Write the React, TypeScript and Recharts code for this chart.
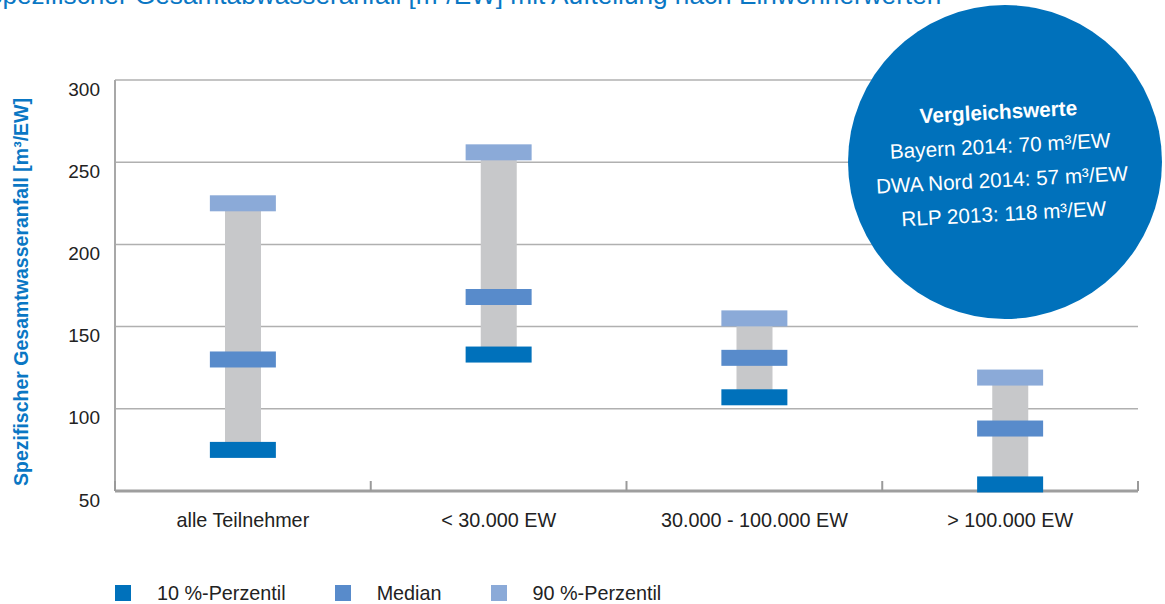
import React from "react";
import {
  ComposedChart,
  Bar,
  Scatter,
  XAxis,
  YAxis,
  CartesianGrid,
} from "recharts";

// categories and values
const categories = ["alle Teilnehmer", "< 30.000 EW", "30.000 - 100.000 EW", "> 100.000 EW"];
const p10 = [75, 133, 107, 54];
const median = [130, 168, 131, 88];
const p90 = [225, 256, 155, 119];
const yTicks = [50, 100, 150, 200, 250, 300];

const compareTitle = "Vergleichswerte";
const compareLines = ["Bayern 2014: 70 m³/EW", "DWA Nord 2014: 57 m³/EW", "RLP 2013: 118 m³/EW"];

const FONT = '"Liberation Sans", Arial, sans-serif';
const BLUE = "#0a77c4";
const C_P10 = "#0071bb";
const C_MED = "#588bcb";
const C_P90 = "#8baad8";
const C_RANGE = "#c7c8ca";

const W = 1165;
const H = 604;
const PLOT_LEFT = 115;
const PLOT_RIGHT = 27;
const BAND = (W - PLOT_LEFT - PLOT_RIGHT) / categories.length;

const data = categories.map((name, i) => ({
  name,
  p10: p10[i],
  median: median[i],
  p90: p90[i],
  range: [p10[i], p90[i]],
}));

const series = [
  { key: "p10", label: "10 %-Perzentil", color: C_P10 },
  { key: "median", label: "Median", color: C_MED },
  { key: "p90", label: "90 %-Perzentil", color: C_P90 },
];

const marker = (color: string) => (props: any) => {
  const { cx, cy } = props;
  if (cx == null || cy == null) return <g />;
  return <rect x={cx - 33} y={cy - 8} width={66} height={16} fill={color} />;
};

const XTick = (props: any) => {
  const { x, y, payload, index } = props;
  const left = x - BAND / 2;
  const right = x + BAND / 2;
  return (
    <g>
      <line x1={left} x2={left} y1={y} y2={y - 10} stroke="#9a9a9a" strokeWidth={2} />
      {index === categories.length - 1 && (
        <line x1={right} x2={right} y1={y} y2={y - 10} stroke="#9a9a9a" strokeWidth={2} />
      )}
      <text
        x={x}
        y={y + 29}
        textAnchor="middle"
        dominantBaseline="central"
        fill="#222"
        fontSize={19.8}
        fontFamily={FONT}
      >
        {payload.value}
      </text>
    </g>
  );
};

const YTick = (props: any) => {
  const { x, y, payload } = props;
  return (
    <text
      x={x}
      y={y + 9}
      textAnchor="end"
      dominantBaseline="central"
      fill="#222"
      fontSize={19}
      fontFamily={FONT}
    >
      {payload.value}
    </text>
  );
};

export default function App() {
  return (
    <div
      style={{
        position: "absolute",
        left: 0,
        top: 0,
        width: W,
        height: H,
        overflow: "hidden",
        background: "#fff",
        fontFamily: FONT,
      }}
    >
      <div
        style={{
          position: "absolute",
          left: -15,
          top: -20,
          fontSize: 26.2,
          color: BLUE,
          whiteSpace: "nowrap",
        }}
      >
        Spezifischer Gesamtabwasseranfall [m³/EW] mit Aufteilung nach Einwohnerwerten
      </div>

      <div
        style={{
          position: "absolute",
          left: 21,
          top: 292,
          transform: "translate(-50%, -50%) rotate(-90deg)",
          fontSize: 19.5,
          fontWeight: "bold",
          color: BLUE,
          whiteSpace: "nowrap",
        }}
      >
        Spezifischer Gesamtwasseranfall [m³/EW]
      </div>

      <div style={{ position: "absolute", left: 0, top: 0 }}>
        <ComposedChart
          width={W}
          height={H}
          data={data}
          margin={{ top: 80, right: PLOT_RIGHT, left: 0, bottom: 63 }}
        >
          <CartesianGrid vertical={false} stroke="#b0b0b0" strokeWidth={1.5} />
          <XAxis
            dataKey="name"
            height={50}
            tickLine={false}
            tickSize={0}
            tickMargin={0}
            interval={0}
            axisLine={{ stroke: "#9e9e9e", strokeWidth: 3 }}
            tick={<XTick />}
          />
          <YAxis
            type="number"
            domain={[50, 300]}
            ticks={yTicks}
            width={PLOT_LEFT}
            tickLine={false}
            tickSize={6}
            tickMargin={9}
            axisLine={{ stroke: "#a8a8a8", strokeWidth: 2 }}
            tick={<YTick />}
          />
          <Bar dataKey="range" barSize={36} fill={C_RANGE} isAnimationActive={false} />
          {series.map((s) => (
            <Scatter
              key={s.key}
              dataKey={s.key}
              fill={s.color}
              shape={marker(s.color)}
              isAnimationActive={false}
            />
          ))}
        </ComposedChart>
      </div>

      <div
        style={{
          position: "absolute",
          left: 848,
          top: 5,
          width: 314,
          height: 314,
          borderRadius: "50%",
          background: "#0071bb",
          color: "#fff",
          display: "flex",
          alignItems: "center",
          justifyContent: "center",
        }}
      >
        <div
          style={{
            transform: "translate(-4px, 1px) rotate(-3deg)",
            textAlign: "center",
            fontSize: 20.7,
            lineHeight: "34px",
          }}
        >
          <div style={{ fontWeight: "bold" }}>{compareTitle}</div>
          {compareLines.map((l) => (
            <div key={l}>{l}</div>
          ))}
        </div>
      </div>

      <div style={{ position: "absolute", left: 115, top: 585, display: "flex", alignItems: "center" }}>
        {series.map((s, i) => (
          <div
            key={s.key}
            style={{ display: "flex", alignItems: "center", marginLeft: i === 0 ? 0 : 49 }}
          >
            <div style={{ width: 16, height: 16, background: s.color }} />
            <span style={{ marginLeft: 26, fontSize: 19.8, color: "#222", lineHeight: "16px" }}>
              {s.label}
            </span>
          </div>
        ))}
      </div>
    </div>
  );
}
